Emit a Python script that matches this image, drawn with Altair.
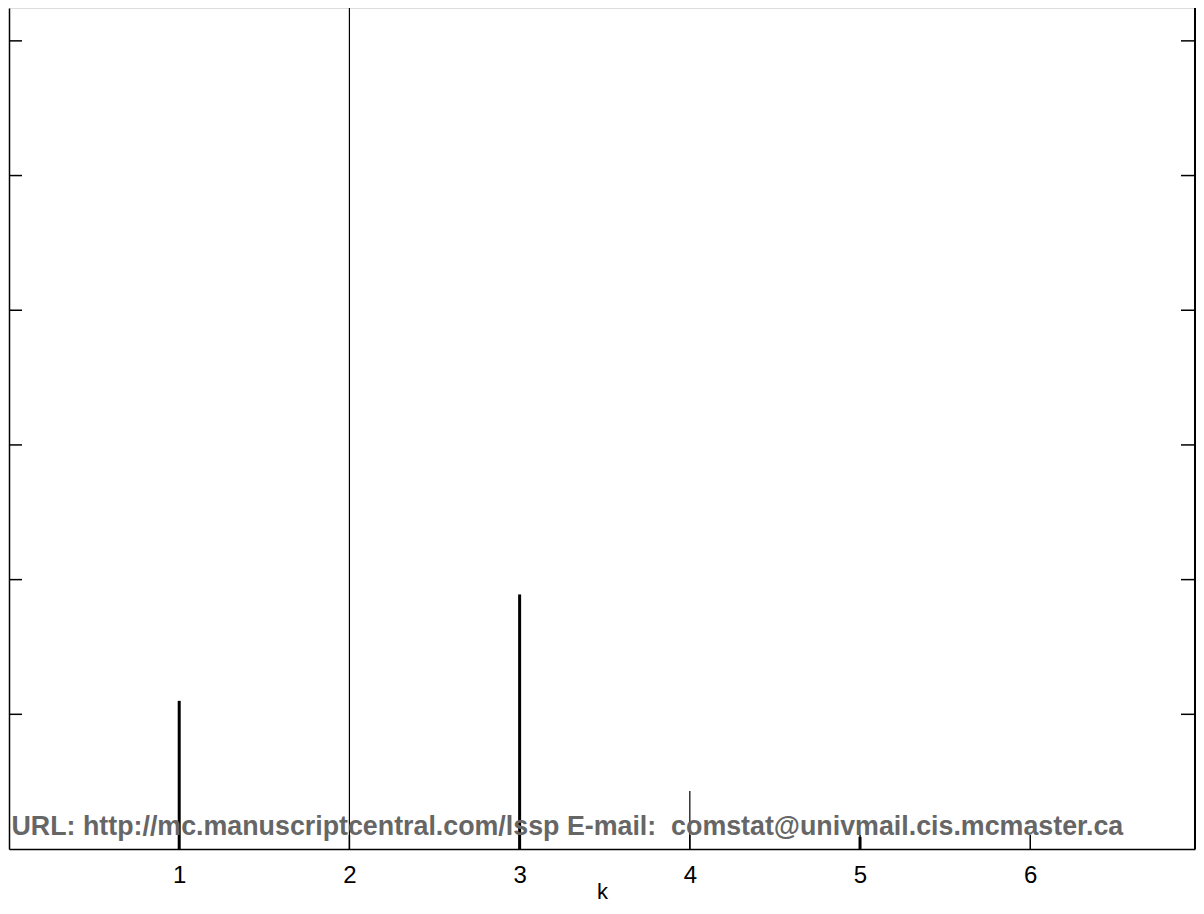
import altair as alt
import pandas as pd

# ---- data ----
k_values = [1, 2, 3, 4, 5, 6]
p_values = [0.110, 0.649, 0.189, 0.043, 0.009, 0.0]
thick_k = [1, 3, 5]
y_ticks = [0.1, 0.2, 0.3, 0.4, 0.5, 0.6]
x_ticks = [1, 2, 3, 4, 5, 6]
watermark = ["URL: http://mc.manuscriptcentral.com/lssp E-mail: \u00a0comstat@univmail.cis.mcmaster.ca"]

W, H = 1186, 841
FONT = "Liberation Sans"
X_MAX = 6.968

df = pd.DataFrame({"k": k_values, "p": p_values})
yt_df = pd.DataFrame({"t": y_ticks})
xt_df = pd.DataFrame({"k": x_ticks})
wm_df = pd.DataFrame({"label": watermark})

xscale = alt.Scale(domain=[0, X_MAX], nice=False, zero=False)
yscale = alt.Scale(domain=[0, 0.6244], nice=False)

x_axis = alt.Axis(values=x_ticks, ticks=False, grid=False, domainColor="black",
                  domainWidth=1.5, labelFont=FONT, labelFontSize=24, labelColor="black",
                  labelPadding=14, title="k", titleFont=FONT, titleFontSize=22,
                  titleFontWeight="normal", titleColor="black", titleBaseline="top",
                  titleY=32)
y_axis = alt.Axis(labels=False, ticks=False, grid=False, domainColor="black",
                  domainWidth=1.5, title=None)

thin = alt.Chart(df).transform_filter(
    {"not": alt.FieldOneOfPredicate(field="k", oneOf=thick_k)}
).mark_rule(color="black", strokeWidth=1.2, clip=True).encode(
    x=alt.X("k:Q", scale=xscale, axis=x_axis),
    y=alt.Y("p:Q", scale=yscale, axis=y_axis),
    y2=alt.datum(0),
)

thick = alt.Chart(df).transform_filter(
    alt.FieldOneOfPredicate(field="k", oneOf=thick_k)
).mark_rule(color="black", strokeWidth=3, clip=True).encode(
    x=alt.X("k:Q", scale=xscale, axis=x_axis),
    y=alt.Y("p:Q", scale=yscale, axis=y_axis),
    y2=alt.datum(0),
)

left_ticks = alt.Chart(yt_df).mark_rule(color="black", strokeWidth=1.5).encode(
    y=alt.Y("t:Q", scale=yscale, axis=y_axis), x=alt.value(0), x2=alt.value(13)
)
right_ticks = alt.Chart(yt_df).mark_rule(color="black", strokeWidth=1.5).encode(
    y=alt.Y("t:Q", scale=yscale, axis=y_axis), x=alt.value(W - 14), x2=alt.value(W)
)
right_border = alt.Chart(yt_df).mark_rule(color="black", strokeWidth=1.5).encode(
    x=alt.value(W), y=alt.value(0), y2=alt.value(H)
)
bottom_ticks = alt.Chart(xt_df).mark_rule(color="black", strokeWidth=1.5).encode(
    x=alt.X("k:Q", scale=xscale, axis=x_axis), y=alt.value(H - 14), y2=alt.value(H)
)

wm = alt.Chart(wm_df).mark_text(
    align="left", baseline="alphabetic", font=FONT, fontSize=26.8,
    fontWeight="bold", color="#666666"
).encode(x=alt.value(2.5), y=alt.value(827), text="label:N")

chart = alt.layer(
    thin, thick, left_ticks, right_ticks, right_border, bottom_ticks, wm
).properties(
    width=W, height=H, autosize="none",
    padding={"left": 1, "top": 0, "right": 1, "bottom": 56},
).configure_view(stroke="transparent", strokeWidth=0).configure(background="white")

chart.save("out.html", embed_options={"renderer": "svg", "actions": False})
